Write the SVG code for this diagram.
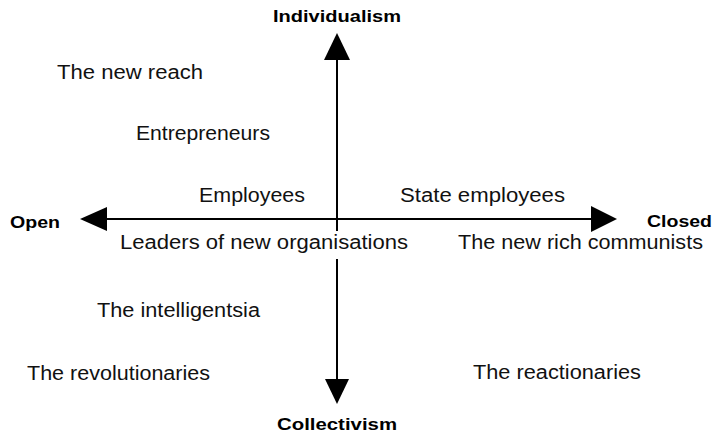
<svg xmlns="http://www.w3.org/2000/svg" width="716" height="435" viewBox="0 0 716 435">
  <style>
    .axis { stroke: #000; stroke-width: 2; fill: none; }
    .head { fill: #000; }
    .pole { font-family: "Liberation Sans", Arial, sans-serif; font-weight: bold; font-size: 17px; fill: #000; }
    .group { font-family: "Liberation Sans", Arial, sans-serif; font-size: 20px; fill: #111; }
  </style>
  <rect width="716" height="435" fill="#fff"/>

  <!-- axes -->
  <g id="connectors">
    <line class="axis" x1="105" y1="219" x2="593" y2="219"/>
    <line class="axis" x1="337" y1="58" x2="337" y2="231"/>
    <line class="axis" x1="337" y1="259" x2="337" y2="381"/>
    <polygon class="head" points="337,33 350,60 324,60"/>
    <polygon class="head" points="337,404 325,379 349,379"/>
    <polygon class="head" points="80,219 107,207 107,231"/>
    <polygon class="head" points="617,219 591,206 591,232"/>
  </g>

  <!-- axis poles -->
  <g id="individualism"><text class="pole" x="337" y="22" text-anchor="middle" textLength="128" lengthAdjust="spacingAndGlyphs">Individualism</text></g>
  <g id="collectivism"><text class="pole" x="337" y="430" text-anchor="middle" textLength="120" lengthAdjust="spacingAndGlyphs">Collectivism</text></g>
  <g id="open"><text class="pole" x="10" y="228" textLength="50" lengthAdjust="spacingAndGlyphs">Open</text></g>
  <g id="closed"><text class="pole" x="647" y="227" textLength="65" lengthAdjust="spacingAndGlyphs">Closed</text></g>

  <!-- social groups -->
  <g id="new-reach"><text class="group" x="57" y="79" textLength="146" lengthAdjust="spacingAndGlyphs">The new reach</text></g>
  <g id="entrepreneurs"><text class="group" x="136" y="140" textLength="134" lengthAdjust="spacingAndGlyphs">Entrepreneurs</text></g>
  <g id="employees"><text class="group" x="199" y="202" textLength="106" lengthAdjust="spacingAndGlyphs">Employees</text></g>
  <g id="state-employees"><text class="group" x="400" y="202" textLength="165" lengthAdjust="spacingAndGlyphs">State employees</text></g>
  <g id="leaders"><text class="group" x="120" y="249" textLength="288" lengthAdjust="spacingAndGlyphs">Leaders of new organisations</text></g>
  <g id="new-rich-communists"><text class="group" x="458" y="249" textLength="245" lengthAdjust="spacingAndGlyphs">The new rich communists</text></g>
  <g id="intelligentsia"><text class="group" x="97" y="317" textLength="163" lengthAdjust="spacingAndGlyphs">The intelligentsia</text></g>
  <g id="revolutionaries"><text class="group" x="27" y="380" textLength="183" lengthAdjust="spacingAndGlyphs">The revolutionaries</text></g>
  <g id="reactionaries"><text class="group" x="473" y="379" textLength="168" lengthAdjust="spacingAndGlyphs">The reactionaries</text></g>
</svg>
